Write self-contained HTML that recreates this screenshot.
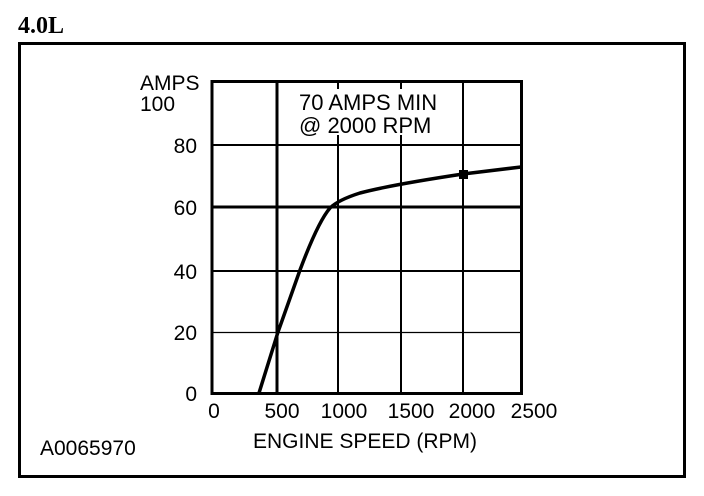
<!DOCTYPE html>
<html><head><meta charset="utf-8"><style>
html,body{margin:0;padding:0;background:#fff;width:704px;height:496px;overflow:hidden}
svg text{font-family:"Liberation Sans",Arial,sans-serif;fill:#000}
</style></head><body>
<svg width="704" height="496" viewBox="0 0 704 496" xmlns="http://www.w3.org/2000/svg">
<text x="18" y="33" style="font-family:'Liberation Serif',serif;font-weight:bold;font-size:24px">4.0L</text>
<rect x="19.5" y="43.5" width="665" height="433" fill="none" stroke="#000" stroke-width="3"/>
<g stroke="#000">
<line x1="212" y1="145" x2="522" y2="145" stroke-width="2"/>
<line x1="212" y1="207" x2="522" y2="207" stroke-width="3"/>
<line x1="212" y1="271" x2="522" y2="271" stroke-width="2"/>
<line x1="212" y1="332.5" x2="522" y2="332.5" stroke-width="1.2"/>
<line x1="277" y1="81" x2="277" y2="394" stroke-width="3"/>
<line x1="338" y1="81" x2="338" y2="394" stroke-width="2"/>
<line x1="401" y1="81" x2="401" y2="394" stroke-width="2"/>
<line x1="463" y1="81" x2="463" y2="394" stroke-width="2"/>
</g>
<rect x="296" y="89" width="146" height="46" fill="#fff"/>
<rect x="212" y="81.5" width="309.5" height="312" fill="none" stroke="#000" stroke-width="3"/>
<path d="M259,393 L278,332 L300,270 Q318,222 330,208 Q338,200 360,193 Q390,185 463,174 L521,167" fill="none" stroke="#000" stroke-width="3.5"/>
<rect x="459" y="170" width="9" height="9" fill="#000"/>
<g font-size="22">
<text x="299" y="110">70 AMPS MIN</text>
<text x="299" y="133">@ 2000 RPM</text>
</g>
<g font-size="21">
<text x="140" y="90">AMPS</text>
<text x="140" y="111">100</text>
<text x="197" y="153" text-anchor="end">80</text>
<text x="197" y="215" text-anchor="end">60</text>
<text x="197" y="279" text-anchor="end">40</text>
<text x="197" y="340" text-anchor="end">20</text>
<text x="197" y="401" text-anchor="end">0</text>
<text x="214" y="418" text-anchor="middle">0</text>
<text x="282" y="418" text-anchor="middle">500</text>
<text x="344" y="418" text-anchor="middle">1000</text>
<text x="411" y="418" text-anchor="middle">1500</text>
<text x="472" y="418" text-anchor="middle">2000</text>
<text x="534" y="418" text-anchor="middle">2500</text>
<text x="365" y="448" text-anchor="middle">ENGINE SPEED (RPM)</text>
<text x="40" y="455">A0065970</text>
</g>
</svg>
</body></html>
